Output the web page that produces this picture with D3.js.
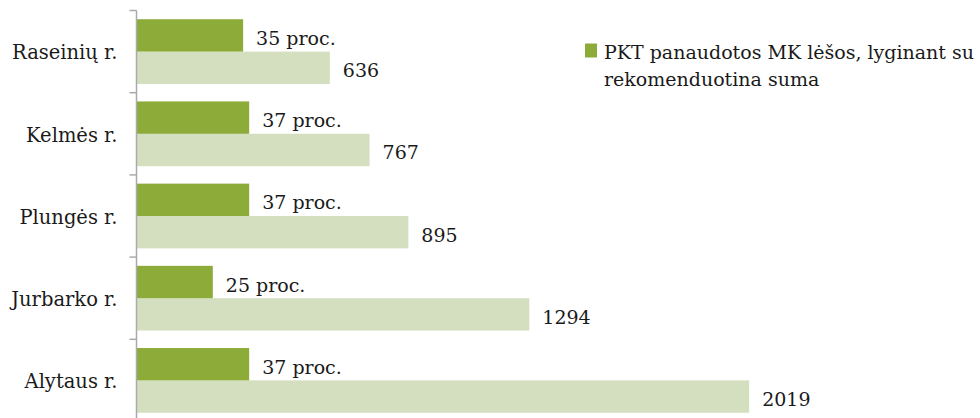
<!DOCTYPE html>
<html>
<head>
<meta charset="utf-8">
<script src="https://cdn.jsdelivr.net/npm/d3@7"></script>
<style>
  body { margin: 0; background: #fff; }
</style>
</head>
<body>
<script>
// rajonai ir reikšmės
var categories = ["Raseinių r.", "Kelmės r.", "Plungės r.", "Jurbarko r.", "Alytaus r."];
var percent = [35, 37, 37, 25, 37];
var amount = [636, 767, 895, 1294, 2019];
var legendText = ["PKT panaudotos MK lėšos, lyginant su", "rekomenduotina suma"];

var w = 980;
var h = 418;
var font = "'DejaVu Serif', serif";

var svg = d3.select("body").append("svg")
  .attr("width", w)
  .attr("height", h)
  .style("font-family", font);

var yScale = d3.scaleBand()
  .domain(categories)
  .range([10.5, 421.5]);

var inner = d3.scaleBand()
  .domain(["pct", "amt"])
  .range([0, yScale.bandwidth()])
  .paddingOuter(0.27)
  .paddingInner(0);

// dvi ašys su tuo pačiu ilgiu
var xAmt = d3.scaleLinear().domain([0, 2500]).range([137, 895]);
var xPct = d3.scaleLinear().domain([0, 250]).range([137, 895]);

var groups = svg.selectAll("g.cat")
  .data(categories)
  .enter()
  .append("g")
  .attr("class", "cat")
  .attr("transform", function(d) { return "translate(0," + yScale(d) + ")"; });

// šviesūs stulpeliai
groups.append("rect")
  .attr("x", xAmt(0))
  .attr("y", inner("amt"))
  .attr("height", inner.bandwidth())
  .attr("width", function(d, i) { return xAmt(amount[i]) - xAmt(0); })
  .attr("fill", "#d3dfbf");

// tamsūs stulpeliai
groups.append("rect")
  .attr("x", xPct(0))
  .attr("y", inner("pct"))
  .attr("height", inner.bandwidth())
  .attr("width", function(d, i) { return xPct(percent[i]) - xPct(0); })
  .attr("fill", "#8dab39");

groups.append("text")
  .attr("x", function(d, i) { return xPct(percent[i]) + 13; })
  .attr("y", inner("pct") + inner.bandwidth() / 2)
  .attr("dy", "0.5em")
  .attr("fill", "#1a1a1a")
  .style("font-size", "19px")
  .text(function(d, i) { return percent[i] + " proc."; });

groups.append("text")
  .attr("x", function(d, i) { return xAmt(amount[i]) + 13; })
  .attr("y", inner("amt") + inner.bandwidth() / 2)
  .attr("dy", "0.5em")
  .attr("fill", "#1a1a1a")
  .style("font-size", "19px")
  .text(function(d, i) { return amount[i]; });

// y ašis
var yAxis = d3.axisLeft(yScale).tickSize(0).tickPadding(19);
var ax = svg.append("g")
  .attr("transform", "translate(136.5,0)")
  .call(yAxis)
  .attr("font-family", null)
  .attr("font-size", null);
ax.select(".domain").remove();
ax.selectAll("text")
  .attr("dy", "0.4em")
  .style("font-size", "19.5px")
  .attr("fill", "#1a1a1a");

ax.append("line")
  .attr("x1", 0).attr("x2", 0)
  .attr("y1", yScale.range()[0]).attr("y2", h)
  .attr("stroke", "#aaaaaa")
  .attr("stroke-width", 1.5);

var edges = categories.map(function(d) { return yScale(d); });
ax.selectAll("line.tick-edge")
  .data(edges)
  .enter()
  .append("line")
  .attr("class", "tick-edge")
  .attr("x1", -7).attr("x2", 0)
  .attr("y1", function(d) { return d; })
  .attr("y2", function(d) { return d; })
  .attr("stroke", "#aaaaaa")
  .attr("stroke-width", 1.5);

// legenda
var legend = svg.append("g").attr("transform", "translate(585,43.5)");
legend.append("rect")
  .attr("width", 12)
  .attr("height", 14)
  .attr("fill", "#8dab39");
legend.selectAll("text")
  .data(legendText)
  .enter()
  .append("text")
  .attr("x", 19)
  .attr("y", function(d, i) { return 15 + i * 27; })
  .attr("fill", "#1a1a1a")
  .style("font-size", "19px")
  .text(function(d) { return d; });
</script>
</body>
</html>
